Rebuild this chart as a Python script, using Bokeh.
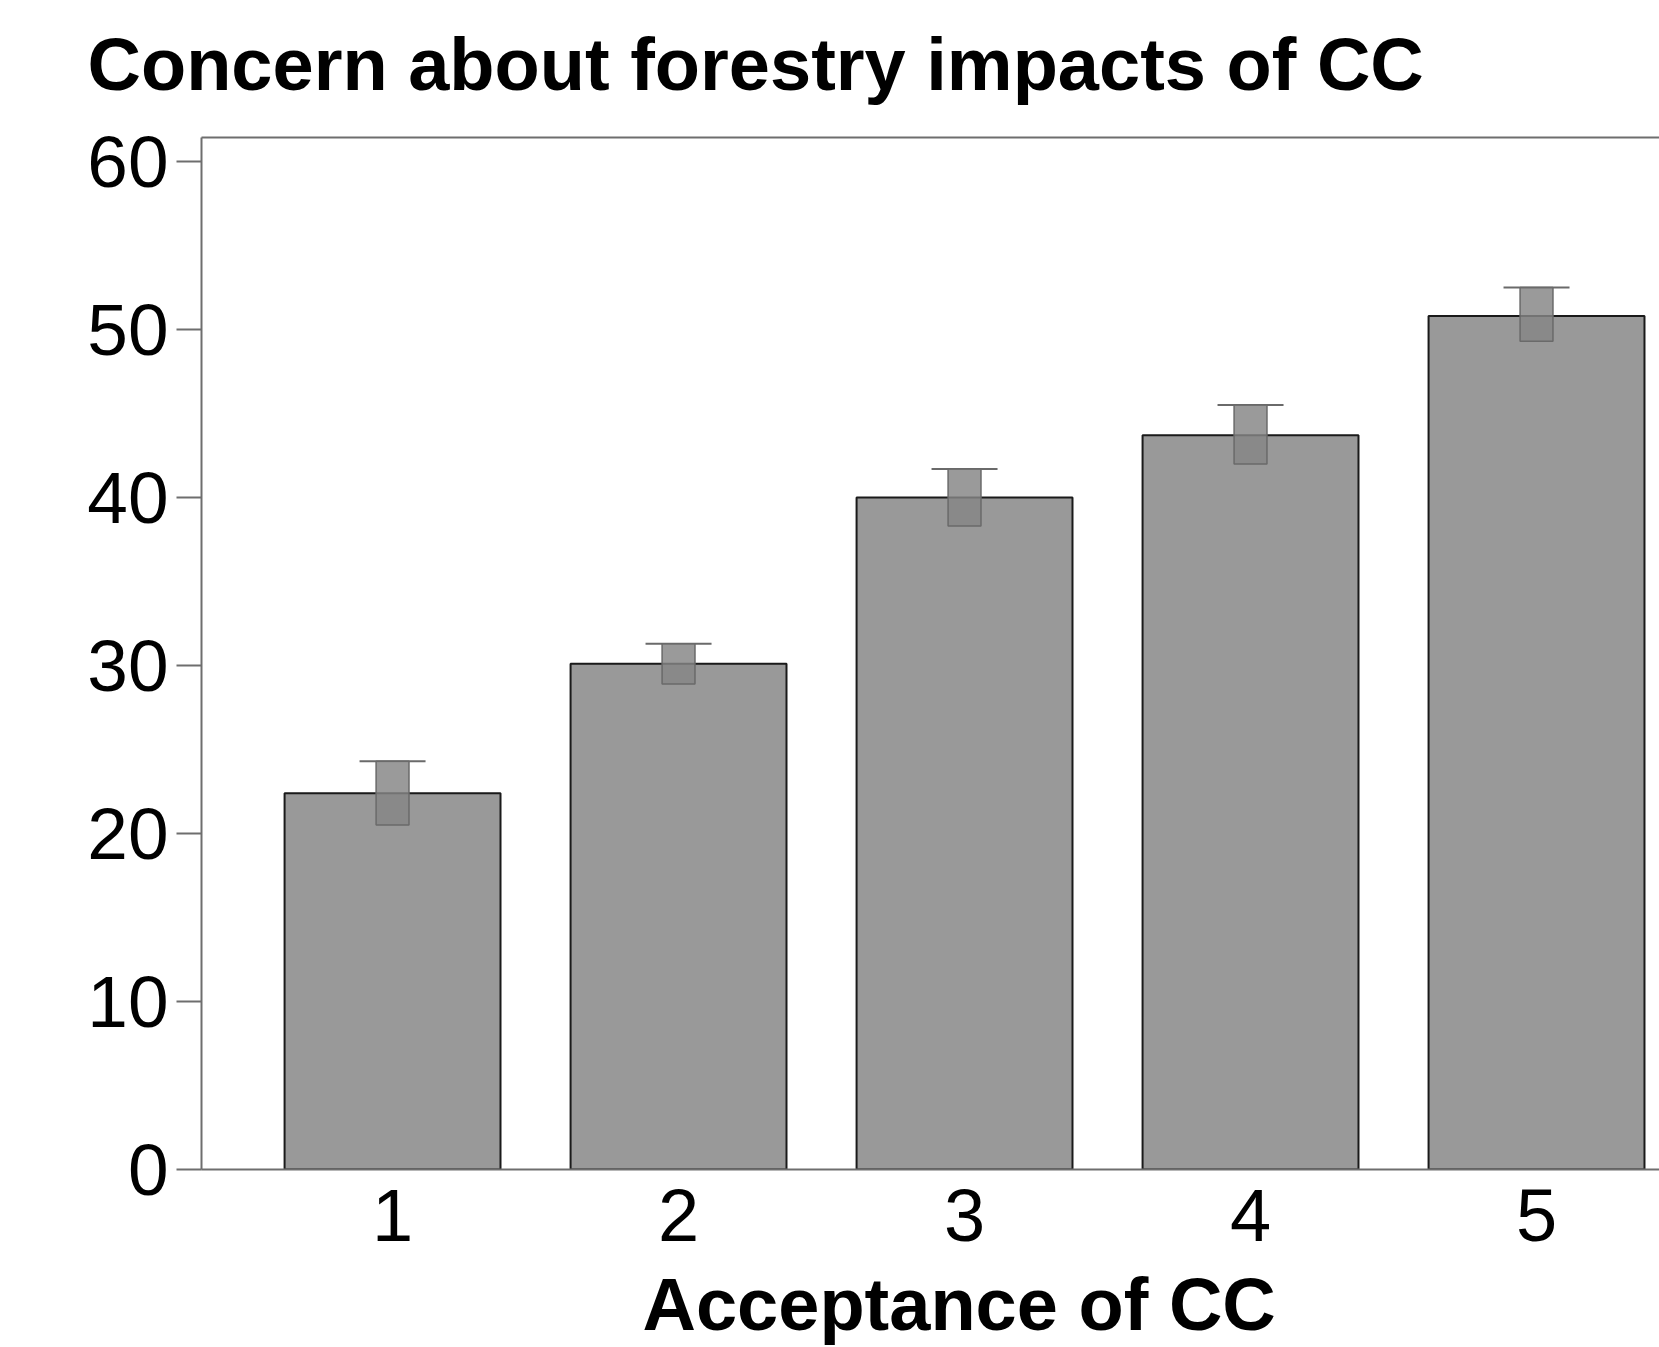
from bokeh.plotting import figure
from bokeh.models import Range1d, FixedTicker, LinearAxis, Whisker, TeeHead, ColumnDataSource, Title
from bokeh.embed import file_html
from bokeh.resources import INLINE

# ---- data ----
categories = [1, 2, 3, 4, 5]
category_labels = ["1", "2", "3", "4", "5"]
means = [22.4, 30.1, 40.0, 43.7, 50.8]
lower = [20.5, 28.9, 38.3, 42.0, 49.3]
upper = [24.3, 31.3, 41.7, 45.5, 52.5]
y_ticks = [0, 10, 20, 30, 40, 50, 60]

title_text = "Concern about forestry impacts of CC"
x_label = "Acceptance of CC"

FONT = "Liberation Sans"
AXIS_GRAY = "#6e6e6e"

src = ColumnDataSource(dict(x=categories, mean=means, lower=lower, upper=upper))

p = figure(
    frame_width=1458, frame_height=1032,
    x_range=Range1d(0.332, 5.43), y_range=Range1d(0, 61.43),
    output_backend="svg", toolbar_location=None,
    min_border_left=201, min_border_right=0, min_border_top=0, min_border_bottom=0,
)
p.outline_line_color = None
p.grid.grid_line_color = None
p.background_fill_color = "white"
p.border_fill_color = "white"

# title
p.title.text = title_text
p.title.text_font = FONT
p.title.text_font_size = "74px"
p.title.text_font_style = "bold"
p.title.text_color = "black"
p.title.align = "left"
p.title.offset = -114
p.title.standoff = 40

# bars
p.vbar(x="x", top="mean", bottom=0, width=0.755, source=src,
       fill_color="#999999", line_color="#1a1a1a", line_width=2)

# error boxes (translucent)
p.vbar(x="x", top="upper", bottom="lower", width=0.115, source=src,
       fill_color="#858585", fill_alpha=0.83, line_color="#6a6a6a", line_width=1.5)

# caps
whisk = Whisker(base="x", upper="upper", lower="lower", source=src,
                line_color=None,
                upper_head=TeeHead(size=66, line_color="#6a6a6a", line_width=2),
                lower_head=TeeHead(size=66, line_color="#7a7a7a", line_width=2))
p.add_layout(whisk)

# x axis
xa = p.xaxis[0]
xa.ticker = FixedTicker(ticks=categories)
xa.major_label_overrides = {c: l for c, l in zip(categories, category_labels)}
xa.major_tick_line_color = None
xa.minor_tick_line_color = None
xa.major_label_text_font = FONT
xa.major_label_text_font_size = "74px"
xa.major_label_text_color = "black"
xa.major_label_standoff = 14
xa.axis_line_color = AXIS_GRAY
xa.axis_line_width = 2

# y axis
ya = p.yaxis[0]
ya.ticker = FixedTicker(ticks=y_ticks)
ya.minor_tick_line_color = None
ya.major_tick_in = 0
ya.major_tick_out = 25
ya.major_tick_line_color = AXIS_GRAY
ya.major_tick_line_width = 2
ya.major_label_text_font = FONT
ya.major_label_text_font_size = "73px"
ya.major_label_text_color = "black"
ya.major_label_standoff = 8
ya.axis_line_color = AXIS_GRAY
ya.axis_line_width = 2

# top border line (the chart is cropped on the right, so no right border);
# an invisible tick gives the gap between the title and the frame
top = LinearAxis(ticker=FixedTicker(ticks=[categories[2]]),
                 major_label_overrides={categories[2]: ""},
                 major_label_text_font_size="1px", major_label_standoff=0,
                 major_tick_line_color=None, minor_tick_line_color=None,
                 major_tick_in=0, major_tick_out=12,
                 axis_line_color=AXIS_GRAY, axis_line_width=2)
p.add_layout(top, "above")

# x axis title, placed to match the original (centred on the uncropped frame)
xt = Title(text=x_label, align="left", offset=441, text_font=FONT,
           text_font_size="74px", text_font_style="bold", text_color="black", standoff=34)
p.add_layout(xt, "below")

open("out.html", "w").write(file_html(p, INLINE))
